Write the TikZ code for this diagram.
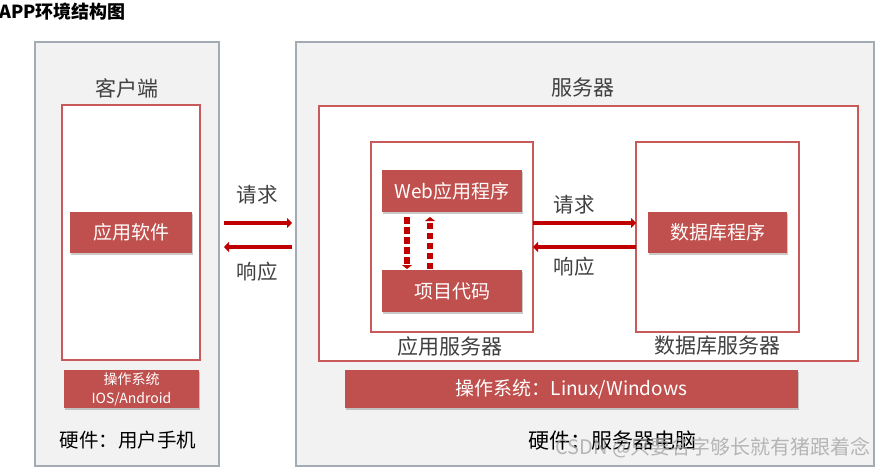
\documentclass[tikz,border=0pt]{standalone}
\usepackage{fontspec}
\setmainfont{Noto Sans CJK SC}
\usetikzlibrary{arrows.meta,shadows}
\definecolor{boxred}{HTML}{C0504D}
\definecolor{linered}{HTML}{C85A5A}
\definecolor{arrred}{HTML}{C00000}
\definecolor{panelfill}{HTML}{F2F2F2}
\definecolor{panelline}{HTML}{A3ABB5}
\definecolor{labelgray}{HTML}{404040}
\begin{document}
\begin{tikzpicture}[x=1pt,y=-1pt,
  panel/.style={draw=panelline, line width=1.5pt, fill=panelfill, inner sep=0pt, outer sep=0pt},
  frame/.style={draw=linered, line width=1.5pt, fill=white, inner sep=0pt, outer sep=0pt},
  redbox/.style={fill=boxred, text=white, inner sep=0pt, outer sep=0pt, align=center,
    drop shadow={shadow xshift=1.2pt, shadow yshift=-1.5pt, opacity=0.35, fill=black!60},
    font=\fontsize{19}{22}\selectfont},
  caption/.style={text=labelgray, inner sep=0pt, font=\fontsize{21}{24}\selectfont},
  hwlabel/.style={text=black, inner sep=0pt},
  flow/.style={draw=arrred, line width=4.5pt, -{Triangle[length=5pt,width=10pt]}},
  dashflow/.style={draw=arrred, line width=5.5pt, dash pattern=on 6.5pt off 3.5pt, -{Triangle[length=4pt,width=10pt]}}
]
\useasboundingbox (0,0) rectangle (883,468);

% title
\node[anchor=west, inner sep=0pt, font=\fontsize{18}{20}\selectfont\bfseries] (title) at (-1,12) {APP环境结构图};

% client side
\node[panel, minimum width=184pt, minimum height=424pt] (client) at (127,254) {};
\node[caption] (clientcap) at (127,88) {客户端};
\node[frame, minimum width=138pt, minimum height=255pt] (clientframe) at (131,232.5) {};
\node[redbox, minimum width=122pt, minimum height=41pt] (app) at (131,232.5) {应用软件};
\node[redbox, minimum width=135pt, minimum height=38pt, font=\fontsize{14}{19}\selectfont] (clientos) at (131.5,389) {操作系统\\IOS/Android};
\node[hwlabel, font=\fontsize{19.5}{22}\selectfont] (clienthw) at (128,440) {硬件：用户手机};

% server side
\node[panel, minimum width=578pt, minimum height=424pt] (server) at (585,254) {};
\node[caption] (servercap) at (583,88) {服务器};
\node[frame, minimum width=539pt, minimum height=255pt] (serverframe) at (588.5,233.5) {};
\node[frame, minimum width=162pt, minimum height=190pt] (appsrv) at (452,237) {};
\node[redbox, minimum width=140pt, minimum height=42pt] (web) at (452,191) {Web应用程序};
\node[redbox, minimum width=140pt, minimum height=42pt] (code) at (452,291) {项目代码};
\node[caption] (appsrvcap) at (450,347) {应用服务器};
\node[frame, minimum width=163pt, minimum height=190pt] (dbsrv) at (717.5,237) {};
\node[redbox, minimum width=139pt, minimum height=41pt] (dbprog) at (717.5,232.5) {数据库程序};
\node[caption] (dbsrvcap) at (717,346) {数据库服务器};
\node[redbox, minimum width=453pt, minimum height=38pt] (serveros) at (571.5,389) {操作系统：Linux/Windows};
\node[hwlabel, font=\fontsize{21}{24}\selectfont] (serverhw) at (612,441) {硬件：服务器电脑};

% connectors client <-> server
\coordinate (ylo) at (0,223);
\coordinate (yhi) at (0,247);
\draw[flow, shorten <=5pt, shorten >=4pt] (client.east |- ylo) -- (server.west |- ylo);
\draw[flow, shorten <=4pt, shorten >=5pt] (server.west |- yhi) -- (client.east |- yhi);
\node[caption, font=\fontsize{20.5}{24}\selectfont] (req1) at (257,195) {请求};
\node[caption, font=\fontsize{20.5}{24}\selectfont] (resp1) at (257,272) {响应};

% connectors app server <-> db server
\draw[flow] (appsrv.east |- ylo) -- (dbsrv.west |- ylo);
\draw[flow] (dbsrv.west |- yhi) -- (appsrv.east |- yhi);
\node[caption, font=\fontsize{20.5}{24}\selectfont] (req2) at (574,205) {请求};
\node[caption, font=\fontsize{20.5}{24}\selectfont] (resp2) at (574,267) {响应};

% dashed arrows web <-> code
\draw[dashflow, shorten <=5pt, shorten >=1pt] ([xshift=-45pt]web.south) -- ([xshift=-45pt]code.north);
\draw[dashflow, shorten <=1pt, shorten >=5pt] ([xshift=-22pt]code.north) -- ([xshift=-22pt]web.south);

% watermark
\node[anchor=west, inner sep=0pt, text=gray!70, opacity=0.8, font=\fontsize{20}{22}\selectfont] (wm) at (555,448) {CSDN @只要名字够长就有猪跟着念};
\end{tikzpicture}
\end{document}
